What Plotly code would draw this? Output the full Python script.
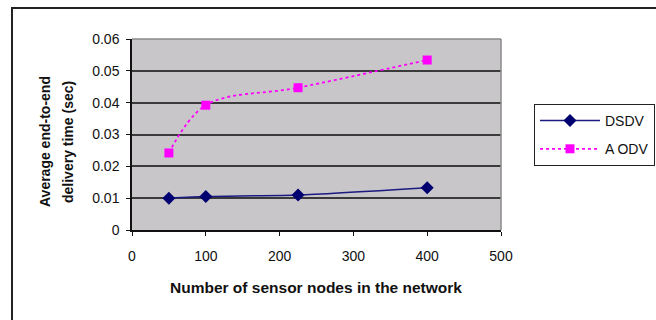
import plotly.graph_objects as go

# Network sizes (number of sensor nodes)
nodes = [50, 100, 225, 400]
# Average end-to-end delivery time (sec)
dsdv_delay = [0.0100, 0.0105, 0.0110, 0.0133]
aodv_delay = [0.0242, 0.0392, 0.0447, 0.0534]

x_ticks = [0, 100, 200, 300, 400, 500]
y_ticks = [0, 0.01, 0.02, 0.03, 0.04, 0.05, 0.06]
y_tick_text = ["0", "0.01", "0.02", "0.03", "0.04", "0.05", "0.06"]

FONT = "Liberation Sans, Arial, sans-serif"
W, H = 656, 320
L, R, T, B = 132, 155, 39, 90
plot_w = W - L - R
plot_h = H - T - B


def px_x(px):
    return (px - L) / plot_w


def px_y(py):
    return (H - B - py) / plot_h


fig = go.Figure()

fig.add_trace(go.Scatter(
    x=nodes, y=dsdv_delay, name="DSDV", mode="lines+markers",
    legendgroup="a",
    line=dict(color="#1a1a80", width=1.5, shape="spline", smoothing=0.6),
    marker=dict(symbol="diamond", size=10, color="#000070"),
))
fig.add_trace(go.Scatter(
    x=nodes, y=aodv_delay, name="A ODV", mode="lines+markers",
    legendgroup="b",
    line=dict(color="#ff00ff", width=1.8, dash="dot", shape="spline", smoothing=1.0),
    marker=dict(symbol="square", size=9, color="#ff00ff"),
))

fig.update_layout(
    width=W, height=H,
    margin=dict(l=L, r=R, t=T, b=B, autoexpand=False),
    paper_bgcolor="white",
    plot_bgcolor="#c8c6c8",
    font=dict(family=FONT, size=14, color="#111"),
    showlegend=True,
    legend=dict(
        x=px_x(534), y=px_y(104), xanchor="left", yanchor="top",
        bordercolor="#222", borderwidth=1, bgcolor="white",
        font=dict(family=FONT, size=14, color="#111"),
        traceorder="grouped", tracegroupgap=7, itemwidth=60,
    ),
    xaxis=dict(
        range=[0, 500], tickvals=x_ticks, showgrid=False, zeroline=False,
        showline=True, linecolor="#111", linewidth=1.5,
        ticks="outside", ticklen=4, tickcolor="#111", ticklabelstandoff=8,
        tickfont=dict(size=14), fixedrange=True, automargin=False,
    ),
    yaxis=dict(
        range=[0, 0.06], tickvals=y_ticks, ticktext=y_tick_text,
        showgrid=True, gridcolor="#3a3a3a", gridwidth=1.5, zeroline=False,
        showline=True, linecolor="#111", linewidth=1.5,
        ticks="outside", ticklen=4, tickcolor="#111", ticklabelstandoff=4,
        tickfont=dict(size=14), fixedrange=True, automargin=False,
    ),
)

# Gray frame on the top and right of the plot area
fig.add_shape(type="line", xref="paper", yref="paper", x0=0, x1=1, y0=1, y1=1,
              line=dict(color="#8a8a8a", width=1.5))
fig.add_shape(type="line", xref="paper", yref="paper", x0=1, x1=1, y0=0, y1=1,
              line=dict(color="#8a8a8a", width=1.5))

# Outer chart border
fig.add_shape(type="rect", xref="paper", yref="paper",
              x0=px_x(12), x1=px_x(670), y0=px_y(8), y1=px_y(340),
              line=dict(color="#222", width=2), layer="below")

# Axis titles
fig.add_annotation(text="<b>Number of sensor nodes in the network</b>",
                   xref="paper", yref="paper", x=px_x(316), y=px_y(287),
                   xanchor="center", yanchor="middle",
                   showarrow=False, font=dict(size=15.5, family=FONT, color="#111"))
fig.add_annotation(text="<b>Average end-to-end</b>",
                   xref="paper", yref="paper", x=px_x(45), y=px_y(142),
                   xanchor="center", yanchor="middle",
                   textangle=-90, showarrow=False,
                   font=dict(size=14, family=FONT, color="#111"))
fig.add_annotation(text="<b>delivery time (sec)</b>",
                   xref="paper", yref="paper", x=px_x(68), y=px_y(142),
                   xanchor="center", yanchor="middle",
                   textangle=-90, showarrow=False,
                   font=dict(size=14, family=FONT, color="#111"))

fig.write_html("out.html", config={"displayModeBar": False})
